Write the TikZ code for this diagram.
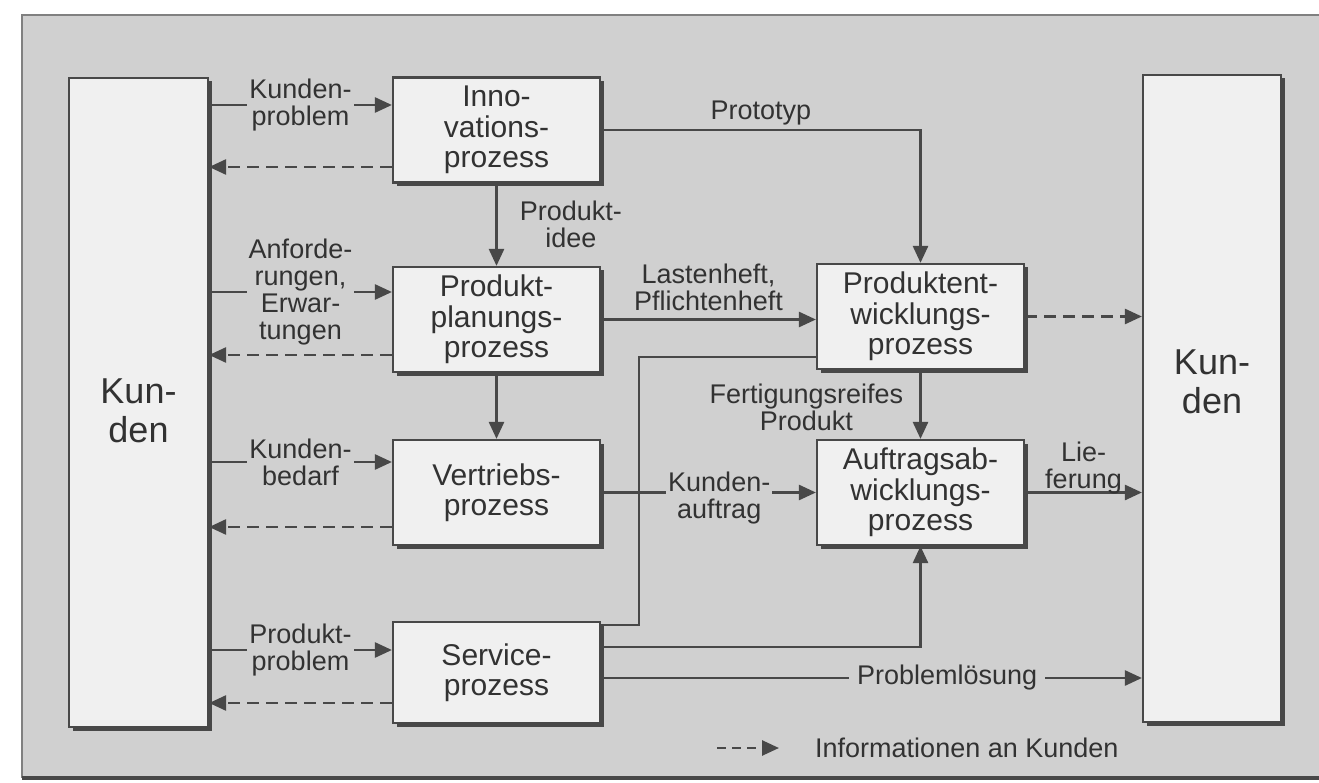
\documentclass[tikz,border=0pt]{standalone}
\usepackage{fontspec}
\setmainfont{Liberation Sans}
\usepackage{xcolor}
\usepackage{tikz}
\usetikzlibrary{arrows.meta,shadows}

\definecolor{paper}{RGB}{208,208,208}
\definecolor{boxfill}{RGB}{240,240,240}
\definecolor{linegray}{RGB}{72,72,72}
\definecolor{ink}{RGB}{50,50,50}

\newcommand{\boxfont}{\fontsize{30}{30.5}\selectfont}
\newcommand{\labfont}{\fontsize{27}{27}\selectfont}
\newcommand{\kundfont}{\fontsize{36}{39}\selectfont}

\begin{document}
\begin{tikzpicture}[x=1pt,y=-1pt,
    proc/.style={draw=linegray,line width=2.2pt,fill=boxfill,text=ink,
      minimum width=207pt,minimum height=105pt,align=center,font=\boxfont,
      drop shadow={shadow xshift=3.5pt,shadow yshift=-3.5pt,fill=linegray,opacity=1}},
    kbox/.style={proc,minimum width=139pt,minimum height=649pt},
    ktext/.style={font=\kundfont,text=ink,align=center},
    lab/.style={font=\labfont,text=ink,align=center,inner sep=2pt,fill=paper},
    conn/.style={draw=linegray,line width=2.6pt},
    flow/.style={conn,-{Triangle[length=17pt,width=15pt]}},
    info/.style={flow,dash pattern=on 12pt off 7pt}]
  \useasboundingbox (0,0) rectangle (1319,783);
  \fill[white] (0,0) rectangle (1319,783);
  \fill[paper] (22,15) rectangle (1330,778);
  \draw[gray,line width=1.5pt] (1330,15) -- (22,15) -- (22,778);
  \draw[linegray,line width=4pt] (22,778) -- (1330,778);

  \node[kbox] (kundenL) at (138.5,402.5) {};
  \node[ktext] (kundenLtxt) at ([yshift=-8pt]kundenL.center) {Kun-\\den};
  \node[kbox,minimum width=138pt,minimum height=647pt] (kundenR) at (1212,398.5) {};
  \node[ktext] (kundenRtxt) at ([yshift=17pt]kundenR.center) {Kun-\\den};

  \node[proc] (inno) at (496.5,130) {Inno-\\vations-\\prozess};
  \node[proc] (plan) at (496.5,319.5) {Produkt-\\planungs-\\prozess};
  \node[proc] (vertrieb) at (496.5,492.5) {Vertriebs-\\prozess};
  \node[proc,minimum height=101pt] (service) at (496.5,672.5) {Service-\\prozess};
  \node[proc] (entw) at (920.5,316.5) {Produktent-\\wicklungs-\\prozess};
  \node[proc] (auftrag) at (920.5,492.5) {Auftragsab-\\wicklungs-\\prozess};

  \coordinate (i1) at ([yshift=25pt]inno.west);
  \coordinate (i2) at ([yshift=-37pt]inno.west);
  \coordinate (p1) at ([yshift=27.5pt]plan.west);
  \coordinate (p2) at ([yshift=-35.5pt]plan.west);
  \coordinate (v1) at ([yshift=30.5pt]vertrieb.west);
  \coordinate (v2) at ([yshift=-34.5pt]vertrieb.west);
  \coordinate (s1) at ([yshift=22.5pt]service.west);
  \coordinate (s2) at ([yshift=-30.5pt]service.west);

  \draw[flow] (kundenL.east |- i1) -- node[lab]{Kunden-\\problem} (i1);
  \draw[info] (i2) -- (kundenL.east |- i2);
  \draw[flow] (kundenL.east |- p1) -- node[lab]{Anforde-\\rungen,\\Erwar-\\tungen} (p1);
  \draw[info] (p2) -- (kundenL.east |- p2);
  \draw[flow] (kundenL.east |- v1) -- node[lab]{Kunden-\\bedarf} (v1);
  \draw[info] (v2) -- (kundenL.east |- v2);
  \draw[flow] (kundenL.east |- s1) -- node[lab]{Produkt-\\problem} (s1);
  \draw[info] (s2) -- (kundenL.east |- s2);

  \draw[flow] (inno.south) -- node[lab,right=20pt]{Produkt-\\idee} (plan.north);
  \draw[flow] (plan.south) -- (vertrieb.north);
  \draw[flow] (inno.east) -| node[lab,pos=0.25,above=2pt]{Prototyp} (entw.north);
  \draw[flow] (plan.east) -- node[lab,above=5pt]{Lastenheft,\\Pflichtenheft} (plan.east -| entw.west);
  \draw[info] (entw.east) -- (entw.east -| kundenR.west);
  \draw[flow] (entw.south) -- node[lab,left=14pt,yshift=-3pt]{Fertigungsreifes\\Produkt} (auftrag.north);
  \draw[flow] (vertrieb.east) -- node[lab,pos=0.55,yshift=-6pt]{Kunden-\\auftrag} (vertrieb.east -| auftrag.west);
  \draw[flow] (auftrag.east) -- node[lab,fill=none,above=-5pt]{Lie-\\ferung} (auftrag.east -| kundenR.west);

  \coordinate (s3) at ([yshift=47.5pt]service.east);
  \coordinate (s4) at ([yshift=25.5pt]service.east);
  \coordinate (s5) at ([yshift=-5.5pt]service.east);
  \coordinate (e1) at ([yshift=-40.5pt]entw.west);
  \draw[conn] (s3) -- ++(38,0) |- (e1);
  \draw[flow] (s4) -| (auftrag.south);
  \draw[flow] (s5) -- node[lab,pos=0.64,inner xsep=8pt]{Problemlösung} (s5 -| kundenR.west);

  \node[lab,anchor=west] (legtxt) at (813,748) {Informationen an Kunden};
  \coordinate (leg0) at ([xshift=-96pt]legtxt.west);
  \coordinate (leg1) at ([xshift=-34pt]legtxt.west);
  \draw[info,dash pattern=on 9pt off 6pt] (leg0) -- (leg1);
\end{tikzpicture}
\end{document}
